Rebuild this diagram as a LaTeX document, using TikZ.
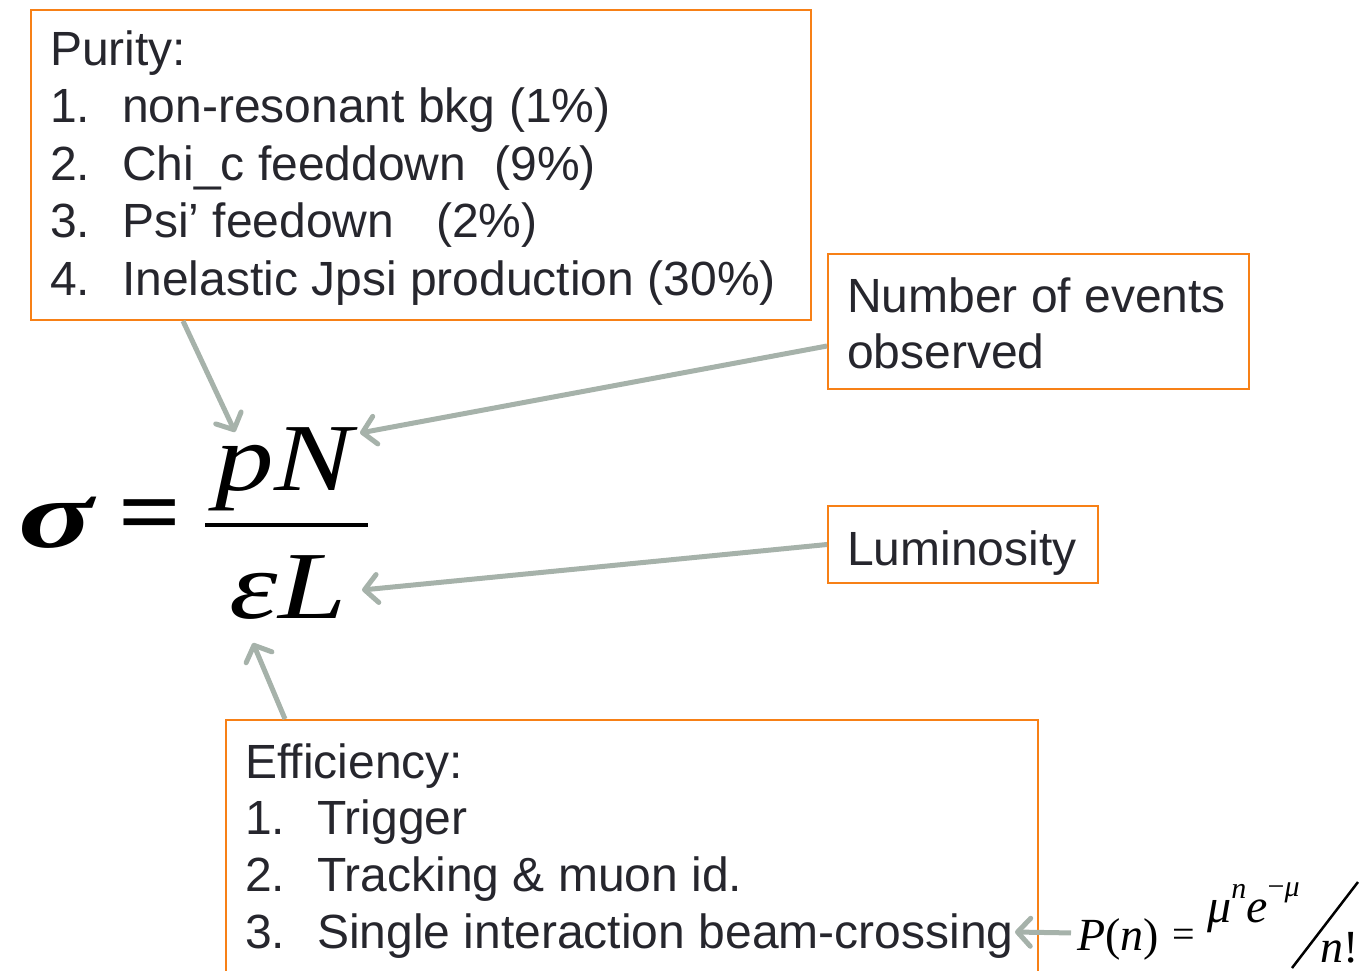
\documentclass[tikz,border=0pt]{standalone}
\usepackage{fontspec}
\setmainfont{Liberation Sans}
\newfontfamily\formfont{Liberation Serif}
\usetikzlibrary{arrows.meta}
\definecolor{boxorange}{RGB}{247,128,22}
\definecolor{linkgray}{RGB}{166,178,170}
\definecolor{ink}{RGB}{38,38,45}

\begin{document}
\begin{tikzpicture}[x=1pt,y=-1pt,
  box/.style={draw=boxorange, line width=2pt, inner sep=0pt, anchor=north west},
  txt/.style={anchor=base west, inner sep=0pt, text=ink, font=\fontsize{48}{57}\selectfont},
  item/.style={txt},
  link/.style={draw=linkgray, line width=5pt, -{Straight Barb[length=13pt,width=28pt,round]}},
  eq/.style={inner sep=0pt, font=\formfont\itshape\fontsize{96}{96}\selectfont},
  small/.style={inner sep=0pt, anchor=base west, font=\formfont\itshape\fontsize{46}{46}\selectfont}
]
\useasboundingbox (0,0) rectangle (1369,970);
\clip (0,0) rectangle (1369,970);

% ---- boxes ----
\node[box, minimum width=780pt, minimum height=310pt] (purity) at (30,9) {};
\node[box, minimum width=421pt, minimum height=135pt] (events) at (827,253) {};
\node[box, minimum width=270pt, minimum height=77pt] (lumi) at (827,505) {};
\node[box, minimum width=812pt, minimum height=270pt] (eff) at (225,719) {};

% ---- purity list ----
\node[txt] (pur0) at (50,65) {Purity:};
\node[item] (pur1) at (50,122) {\makebox[72pt][l]{1.}non-resonant bkg (1\%)};
\node[item] (pur2) at (50,180) {\makebox[72pt][l]{2.}Chi\_c feeddown\hspace{28pt}(9\%)};
\node[item] (pur3) at (50,237) {\makebox[72pt][l]{3.}Psi’ feedown\hspace{42pt}(2\%)};
\node[item] (pur4) at (50,295) {\makebox[72pt][l]{4.}Inelastic Jpsi production (30\%)};

% ---- events and luminosity ----
\node[txt] (ev1) at (847,312) {Number of events};
\node[txt] (ev2) at (847,368) {observed};
\node[txt] (lum) at (847,565) {Luminosity};

% ---- efficiency list ----
\node[txt] (eff0) at (245,778) {Efficiency:};
\node[item] (eff1) at (245,834) {\makebox[72pt][l]{1.}Trigger};
\node[item] (eff2) at (245,891) {\makebox[72pt][l]{2.}Tracking \& muon id.};
\node[item] (eff3) at (245,948) {\makebox[72pt][l]{3.}Single interaction beam-crossing};

% ---- cross section formula ----
\node[eq, anchor=base west, font=\formfont\bfseries\itshape\fontsize{96}{96}\selectfont] (sigma) at (18,547) {\scalebox{1.45}[1]{σ}};
\node[eq, font=\formfont\bfseries\fontsize{96}{96}\selectfont] (equals) at (150,522) {\scalebox{1.15}[1]{=}};
\node[eq, anchor=base] (num) at (284,490) {\scalebox{1.22}[1]{pN}};
\node[eq, anchor=base] (den) at (288,618) {\scalebox{1.28}[1]{εL}};
\draw[line width=4pt] (205,525) -- (368,525);

% ---- Poisson probability ----
\node[small] (pn) at (1077,950) {P\/{\upshape(}n{\upshape)}};
\node[small, anchor=west, font=\formfont\fontsize{40}{40}\selectfont] (pneq) at (1172,938) {=};
\node[small, font=\formfont\itshape\fontsize{48}{48}\selectfont] (pnum) at (1207,922) {μ\raisebox{24pt}{\fontsize{30}{30}\selectfont n}e\raisebox{26pt}{\fontsize{30}{30}\selectfont{\upshape −}μ}};
\draw[line width=2.5pt] (1292,968) -- (1358,882);
\node[small] (nfac) at (1320,962) {n{\upshape !}};

% ---- pointers onto the formula ----
\coordinate (tipP) at (235,432);
\coordinate (tipN) at (360,433);
\coordinate (tipL) at (362,590);
\coordinate (tipE) at (253,643);
\coordinate (tipX) at (1015,932);

\draw[link] ([xshift=153pt]purity.south west) -- (tipP);
\draw[link] ([yshift=-24.5pt]events.west) -- (tipN);
\draw[link] (lumi.west) -- (tipL);
\draw[link] ([xshift=60pt]eff.north west) -- (tipE);
\draw[link] ([xshift=-6pt,yshift=6pt]pn.west) -- (tipX);
\end{tikzpicture}
\end{document}
